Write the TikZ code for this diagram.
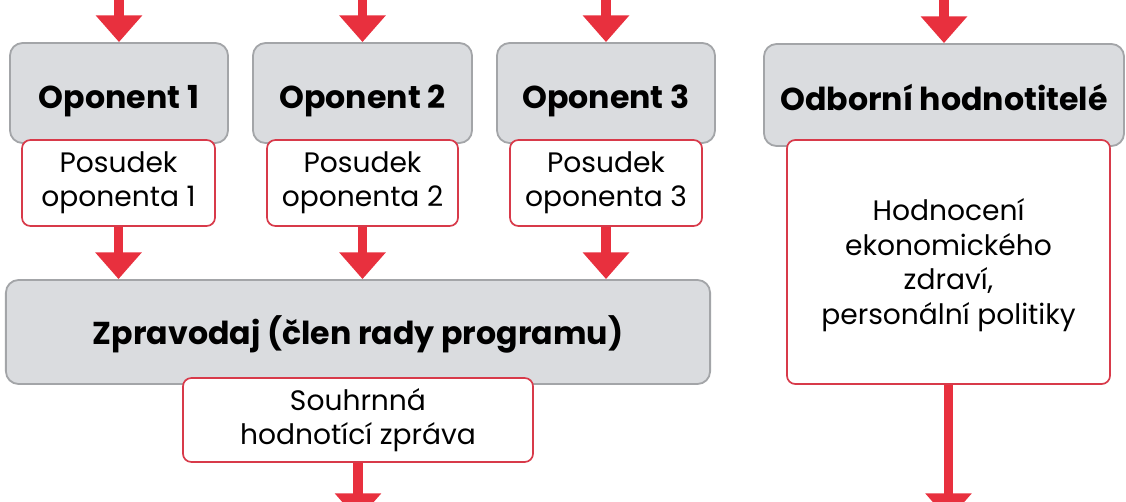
\documentclass[tikz,border=0pt]{standalone}
\usepackage{fontspec}
\setmainfont{Poppins}
\usetikzlibrary{arrows.meta, shapes}
\definecolor{boxgray}{HTML}{DADCDF}
\definecolor{edgegray}{HTML}{A3A5A8}
\definecolor{arrowred}{HTML}{E8303E}
\definecolor{edgered}{HTML}{D83A4A}
\tikzstyle{role} = [rectangle, rounded corners=9pt, minimum height=2.5cm, inner sep=0pt, text centered, text height=22pt, text depth=0pt, draw=edgegray, line width=1.3pt, fill=boxgray, font=\bfseries\fontsize{22.5}{26}\selectfont]
\tikzstyle{output} = [rectangle, rounded corners=6pt, inner sep=0pt, align=center, draw=edgered, line width=1.2pt, fill=white, font=\fontsize{20}{24}\selectfont]
\tikzstyle{arrow} = [draw=arrowred, line width=7pt, -{Triangle[width=32pt, length=19pt]}, arrowred]

\begin{document}
\begin{tikzpicture}[x=0.025cm, y=0.025cm, yscale=-1]
\clip (0, 0) rectangle (1126, 501);

\node at (119, 93) (op1) [role, minimum width=5.45cm] {Oponent 1};
\node at (362.5, 93) (op2) [role, minimum width=5.475cm] {Oponent 2};
\node at (606, 93) (op3) [role, minimum width=5.45cm] {Oponent 3};
\node at (944, 95) (odb) [role, minimum width=9cm, minimum height=2.55cm] {Odborní hodnotitelé};

\node at (118.5, 183) (pos1) [output, minimum width=4.825cm, minimum height=2.15cm] {Posudek\\oponenta 1};
\node at (362.5, 183) (pos2) [output, minimum width=4.775cm, minimum height=2.15cm] {Posudek\\oponenta 2};
\node at (606, 183) (pos3) [output, minimum width=4.8cm, minimum height=2.15cm] {Posudek\\oponenta 3};
\node at (948.5, 262) (hod) [output, minimum width=8.075cm, minimum height=6.1cm, font=\fontsize{20}{24.5}\selectfont] {\rule{0pt}{20pt}Hodnocení\\ekonomického\\zdraví,\\personální politiky};

\node at (358, 332) (zpr) [role, minimum width=17.6cm, minimum height=2.6cm, text height=18pt] {Zpravodaj (člen rady programu)};
\node at (358, 420) (sou) [output, minimum width=8.75cm, minimum height=2.1cm] {Souhrnná\\hodnotící zpráva};

% vstupy a vystupy
\coordinate (in1) at (119, -20);
\coordinate (in2) at (362.5, -20);
\coordinate (in3) at (606, -20);
\coordinate (in4) at (944, -20);
\coordinate (out1) at (358, 520);
\coordinate (out2) at (948.5, 520);

\draw [arrow] (in1) -- (op1.north);
\draw [arrow] (in2) -- (op2.north);
\draw [arrow] (in3) -- (op3.north);
\draw [arrow] (in4) -- (odb.north);

\draw [arrow] (pos1.south) -- (pos1.south |- zpr.north);
\draw [arrow] (pos2.south) -- (pos2.south |- zpr.north);
\draw [arrow] (pos3.south) -- (pos3.south |- zpr.north);

\draw [arrow] (sou.south) -- (out1);
\draw [arrow] (hod.south) -- (out2);

\end{tikzpicture}
\end{document}
